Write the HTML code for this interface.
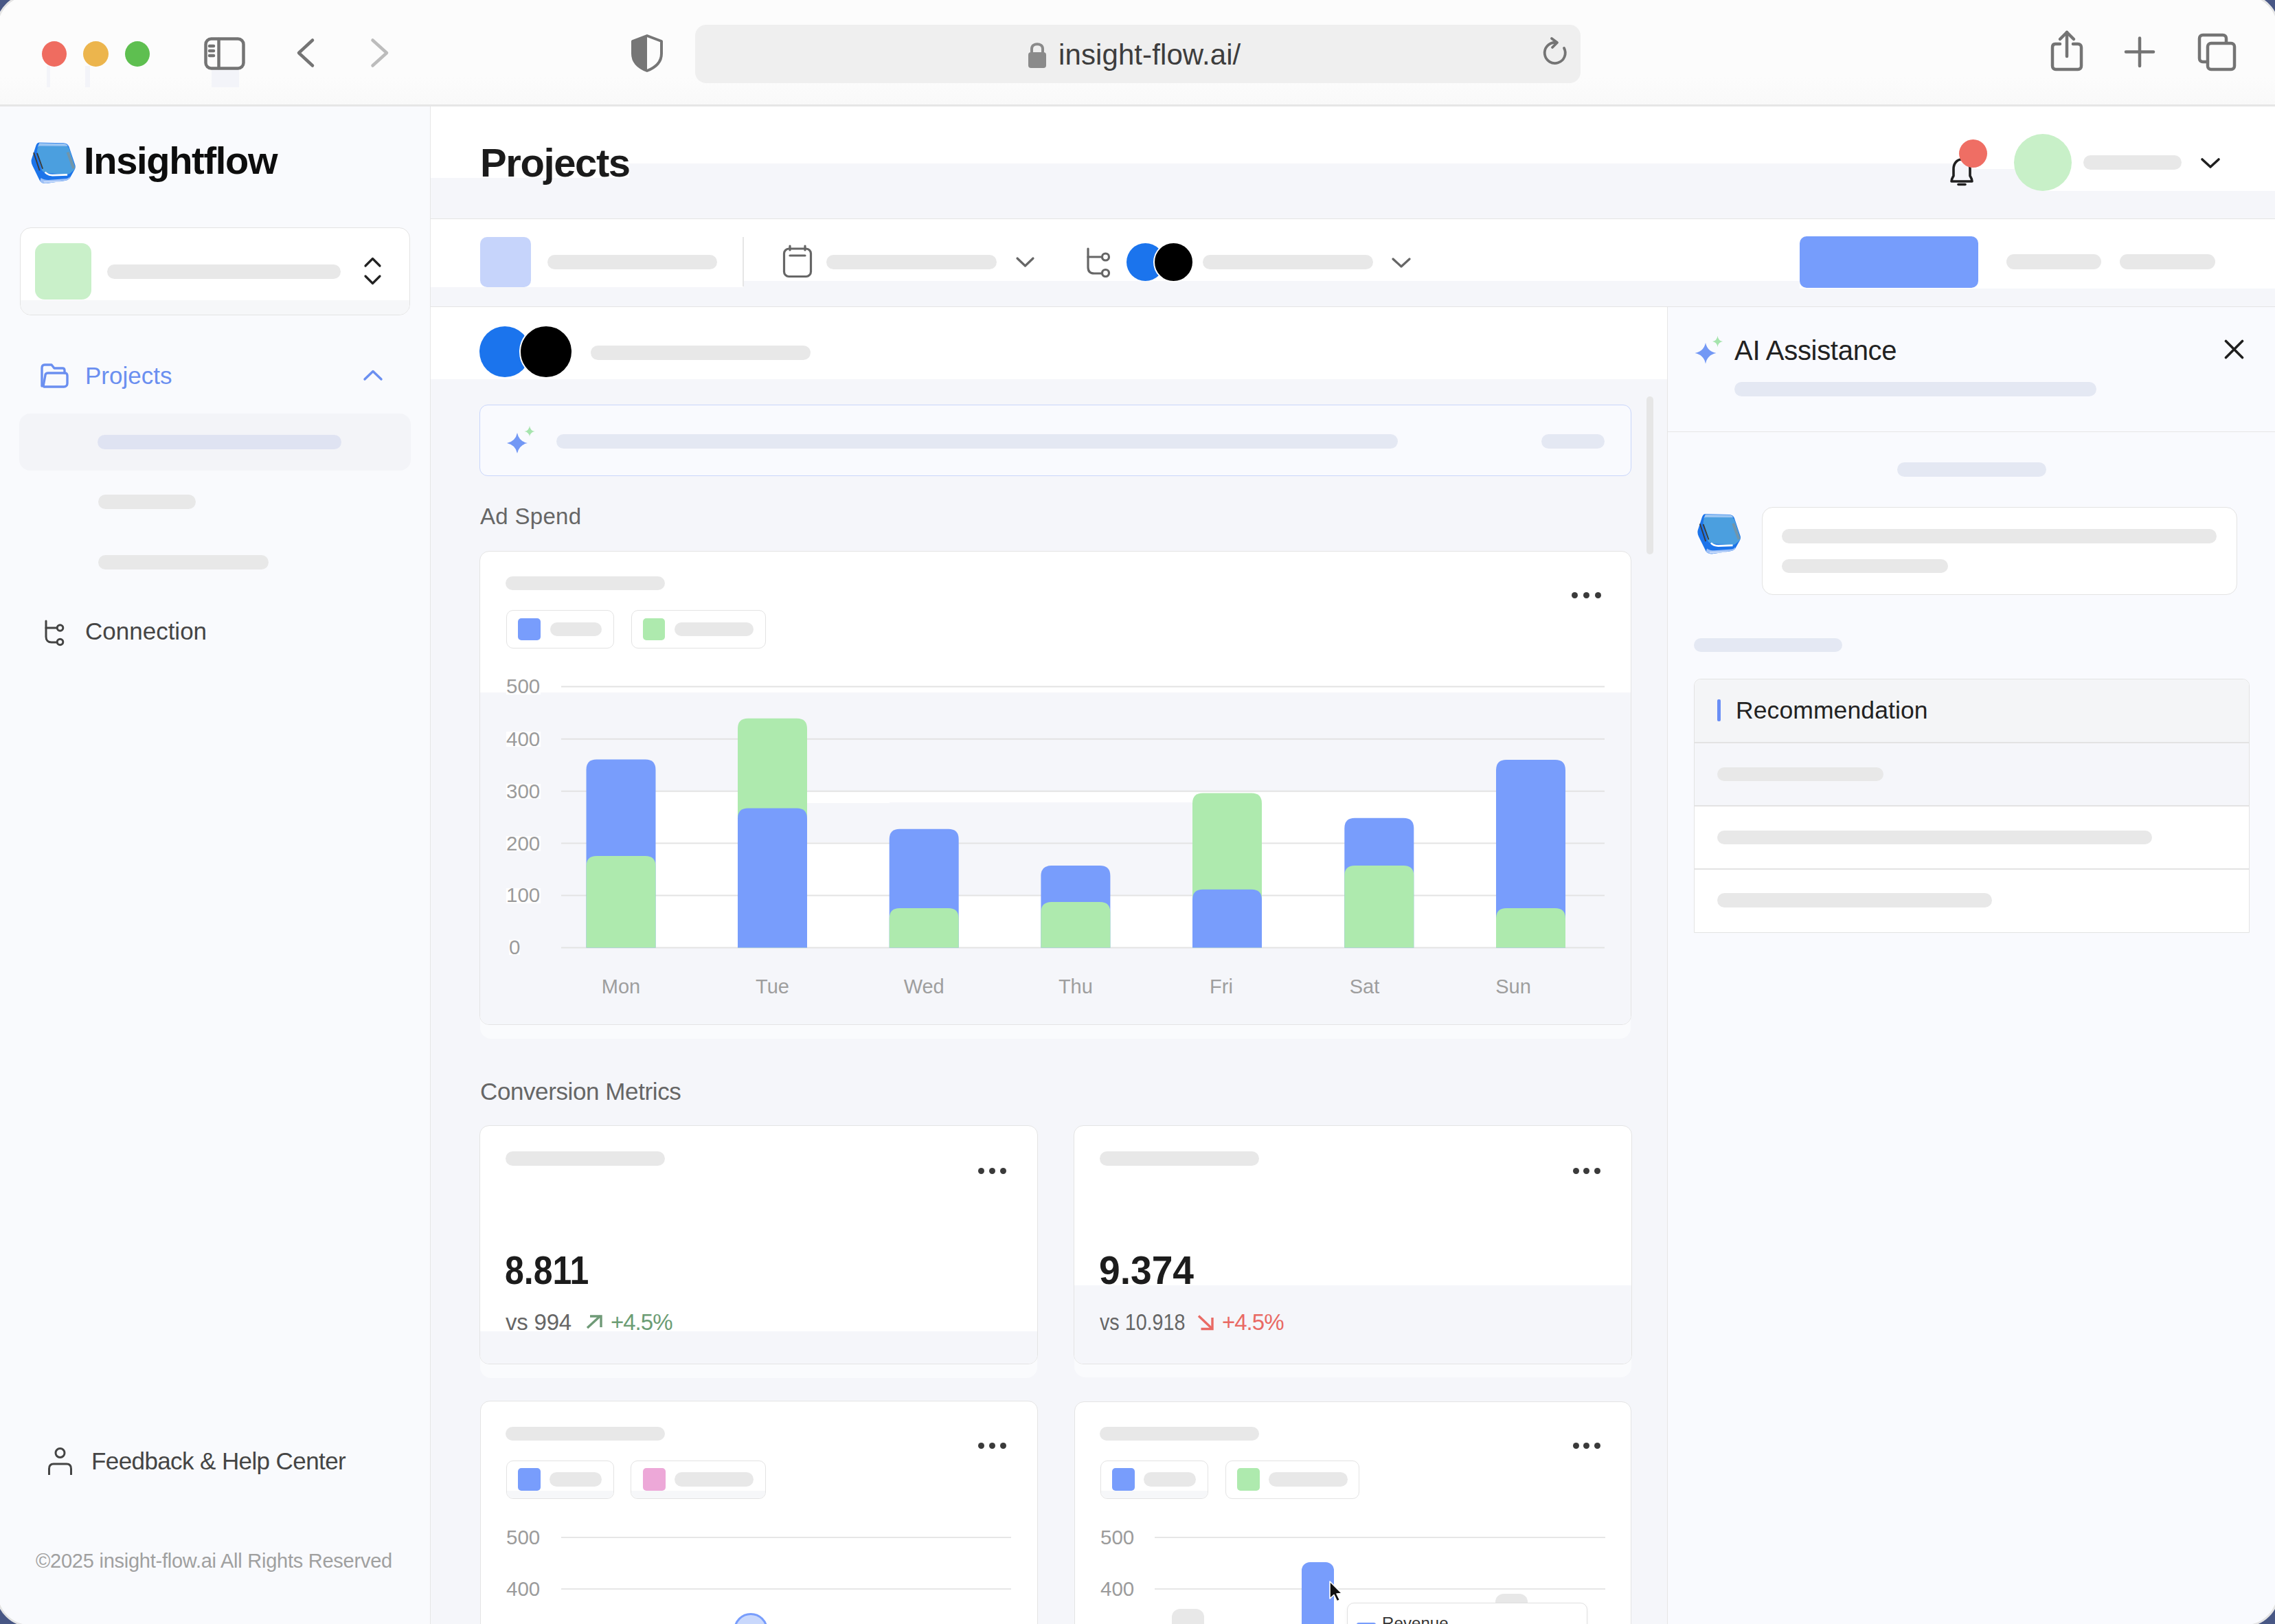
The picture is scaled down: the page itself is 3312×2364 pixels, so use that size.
<!DOCTYPE html>
<html>
<head>
<meta charset="utf-8">
<style>
*{box-sizing:border-box;margin:0;padding:0}
html,body{width:3312px;height:2364px;overflow:hidden;background:#485785;font-family:"Liberation Sans",sans-serif}
.win{position:absolute;left:-6px;top:-9px;width:3324px;height:2377px;border:3px solid #e4e4e4;border-radius:50px;overflow:hidden;background:#fcfcfc}
.c{position:absolute;left:3px;top:6px;width:3312px;height:2364px}
.a{position:absolute}
.t{position:absolute;white-space:nowrap;line-height:1}
.bar{position:absolute;background:#e8e8e8;border-radius:11px}
.bbar{position:absolute;background:#e4e8f3;border-radius:11px}
svg{position:absolute;overflow:visible}
</style>
</head>
<body>
<div class="win"><div class="c">

<!-- ============ BROWSER CHROME ============ -->
<div class="a" style="left:0;top:0;width:3312px;height:152px;background:#fcfcfc"></div>
<div class="a" style="left:0;top:112px;width:3312px;height:40px;background:linear-gradient(#fcfcfc,#f9f9f9)"></div>
<div class="a" style="left:0;top:152px;width:3312px;height:3px;background:#e6e6e6"></div>

<div class="a" style="left:68px;top:96px;width:4.5px;height:31px;background:#f3f4f9"></div>
<div class="a" style="left:124px;top:96px;width:7px;height:31px;background:#f3f4f9"></div>
<div class="a" style="left:308px;top:101px;width:40px;height:26px;background:#f3f4f9"></div>
<!-- traffic lights -->
<div class="a" style="left:61px;top:60px;width:36px;height:37px;border-radius:50%;background:#ef6c60"></div>
<div class="a" style="left:121px;top:60px;width:37px;height:37px;border-radius:50%;background:#ecb54d"></div>
<div class="a" style="left:182px;top:60px;width:36px;height:37px;border-radius:50%;background:#5ebf50"></div>

<!-- sidebar toggle icon -->
<svg style="left:0;top:0" width="3312" height="155" viewBox="0 0 3312 155">
  <g fill="none" stroke="#747474" stroke-width="4.5" stroke-linecap="round" stroke-linejoin="round">
    <rect x="299.5" y="56.5" width="55" height="43" rx="8"/>
    <line x1="318.5" y1="57" x2="318.5" y2="99"/>
    <line x1="305" y1="67" x2="311" y2="67"/>
    <line x1="305" y1="74" x2="311" y2="74"/>
    <line x1="305" y1="81" x2="311" y2="81"/>
    <polyline points="455,58.5 435,77 455,95.5"/>
  </g>
  <polyline fill="none" stroke="#bcbcbc" stroke-width="4.5" stroke-linecap="round" stroke-linejoin="round" points="542.5,58.5 563,77 542.5,95.5"/>
  <!-- shield -->
  <path d="M942 52 L963 60 L963 78 C963 90 955 98 942 103 C929 98 921 90 921 78 L921 60 Z" fill="none" stroke="#767676" stroke-width="4" stroke-linejoin="round"/>
  <path d="M942 52 L921 60 L921 78 C921 90 929 98 942 103 Z" fill="#767676"/>
  <!-- url bar -->
  <rect x="1012" y="36" width="1289" height="85" rx="16" fill="#efefef"/>
  <!-- lock -->
  <path d="M1502 76 L1502 71 C1502 62 1518 62 1518 71 L1518 76" fill="none" stroke="#8a8a8a" stroke-width="4"/>
  <rect x="1497" y="76" width="26" height="23" rx="4" fill="#8a8a8a"/>
  <!-- refresh -->
  <path d="M2277 70 A15 15 0 1 1 2264 62" fill="none" stroke="#747474" stroke-width="3.8" stroke-linecap="round"/>
  <polyline points="2259,56 2267,62 2260,69" fill="none" stroke="#747474" stroke-width="3.8" stroke-linecap="round" stroke-linejoin="round"/>
  <!-- share -->
  <g fill="none" stroke="#747474" stroke-width="4.5" stroke-linecap="round" stroke-linejoin="round">
    <path d="M2999 64 L2992 64 C2989 64 2988 66 2988 69 L2988 96 C2988 99 2990 101 2993 101 L3025 101 C3028 101 3030 99 3030 96 L3030 69 C3030 66 3028 64 3025 64 L3018 64"/>
    <line x1="3009" y1="47" x2="3009" y2="82"/>
    <polyline points="2999,57 3009,47 3019,57"/>
    <line x1="3095" y1="75.5" x2="3135" y2="75.5"/>
    <line x1="3115" y1="55.5" x2="3115" y2="96"/>
    <path d="M3214 90 L3207 90 C3204 90 3202 88 3202 85 L3202 56 C3202 53 3204 51 3207 51 L3236 51 C3239 51 3241 53 3241 56 L3241 62"/>
    <rect x="3214" y="63" width="39" height="38" rx="5"/>
  </g>
</svg>
<div class="t" style="left:1541px;top:59px;font-size:42px;color:#3d3d3d;letter-spacing:0.1px">insight-flow.ai/</div>

<!-- ============ SIDEBAR ============ -->
<div class="a" style="left:0;top:155px;width:626px;height:2209px;background:#f9fafd"></div>
<div class="a" style="left:626px;top:155px;width:1.5px;height:2209px;background:#e6e6e6"></div>

<!-- logo -->
<svg style="left:0;top:0;width:0;height:0">
  <defs>
    <symbol id="logo" viewBox="0 0 1705 1624">
      <path d="M420 235 L1150 250 Q1270 255 1310 360 L1490 900 Q1510 970 1470 1040 L1330 1290 Q1280 1350 1190 1360 L640 1440 Q520 1455 450 1370 L230 920 Q170 800 210 700 L330 330 Q360 240 420 235 Z" fill="#1c74ea"/>
      <path d="M480 1280 Q560 1340 700 1340 L1240 1300 Q1300 1290 1330 1240 L1330 1290 Q1280 1350 1190 1360 L640 1440 Q520 1455 450 1370 Z" fill="#9ec0f6"/>
      <path d="M440 330 L1200 330 Q1290 340 1320 430 L1480 930 Q1500 1000 1440 1060 L1330 1150 Q1290 1175 1220 1175 L640 1130 Q540 1120 500 1040 L380 620 Q350 480 380 400 Q400 335 440 330 Z" fill="#4b9fdf"/>
      <path d="M430 250 L1150 262 Q1240 268 1280 340 L440 335 Q390 335 370 390 Z" fill="#9cc6f2"/>
      <path d="M1270 520 L1450 1000" stroke="#7f9298" stroke-width="80" opacity="0.75"/>
      <path d="M265 530 L440 1060 M365 545 L530 1010" stroke="#3a3a3a" stroke-width="38"/>
      <path d="M600 1110 Q680 1195 820 1200 L1260 1185" stroke="#ffffff" stroke-width="55" fill="none"/>
      <path d="M560 1395 L1060 1385" stroke="#d3e2fb" stroke-width="30" fill="none"/>
    </symbol>
  </defs>
</svg>
<svg style="left:36px;top:196px" width="84" height="80"><use href="#logo"/></svg>
<div class="t" style="left:122px;top:206px;font-size:56px;font-weight:700;color:#0d0d0d;letter-spacing:-1.3px">Insightflow</div>

<!-- workspace selector -->
<div class="a" style="left:29px;top:331px;width:568px;height:128px;border:1.5px solid #e3e3e3;border-radius:16px;background:#fff;overflow:hidden">
  <div class="a" style="left:0;top:105px;width:568px;height:30px;background:#f6f7f9"></div>
</div>
<div class="a" style="left:51px;top:354px;width:82px;height:82px;border-radius:14px;background:#c9f0c9"></div>
<div class="bar" style="left:156px;top:385px;width:340px;height:21px"></div>
<svg style="left:0;top:0" width="640" height="480">
  <g fill="none" stroke="#222" stroke-width="3.2" stroke-linecap="round" stroke-linejoin="round">
    <polyline points="532,387 542.5,376.5 553,387"/>
    <polyline points="532,402 542.5,412.5 553,402"/>
  </g>
</svg>

<!-- nav: Projects -->
<svg style="left:0;top:0" width="640" height="1000">
  <g fill="none" stroke="#6b8ff0" stroke-width="3.4" stroke-linejoin="round" stroke-linecap="round">
    <path d="M61 562 L61 536 C61 533 62 531 65 531 L75 531 L79 536 L91 536 C93 536 94 537 94 539 L94 543"/>
    <path d="M63 562 L66 546 C66 544 68 543 70 543 L95 543 C97 543 98 545 98 547 L98 558 C98 561 96 563 93 563 L64 563"/>
    <polyline points="531,552 543,540.5 555,552"/>
  </g>
  <g fill="none" stroke="#444" stroke-width="3" stroke-linecap="round" stroke-linejoin="round">
    <path d="M67 904 L67 927 C67 932 70 935 75 935 L83 935"/>
    <path d="M67 914 L83 914"/>
    <circle cx="87.5" cy="914" r="4.3"/>
    <circle cx="87.5" cy="934.5" r="4.3"/>
  </g>
</svg>
<div class="t" style="left:124px;top:529px;font-size:35px;color:#6b8ff0">Projects</div>
<div class="a" style="left:28px;top:602px;width:570px;height:83px;border-radius:16px;background:#f3f4f8"></div>
<div class="a" style="left:142px;top:633px;width:355px;height:21px;border-radius:11px;background:#dfe3f2"></div>
<div class="bar" style="left:143px;top:720px;width:142px;height:21px"></div>
<div class="bar" style="left:143px;top:808px;width:248px;height:21px"></div>
<div class="t" style="left:124px;top:901px;font-size:35px;color:#454545">Connection</div>

<!-- feedback -->
<svg style="left:0;top:0" width="640" height="2364">
  <g fill="none" stroke="#454545" stroke-width="3" stroke-linecap="round">
    <circle cx="87.5" cy="2115" r="6.5"/>
    <path d="M71.5 2147 L71.5 2138 C71.5 2133 74 2131 78 2131 L97 2131 C101 2131 103.5 2133 103.5 2138 L103.5 2147" stroke-linecap="butt"/>
  </g>
</svg>
<div class="t" style="left:133px;top:2109px;font-size:35px;color:#454545;letter-spacing:-0.6px">Feedback &amp; Help Center</div>
<div class="t" style="left:52px;top:2258px;font-size:29px;color:#a0a0a0;letter-spacing:-0.25px">©2025 insight-flow.ai All Rights Reserved</div>

<!-- ============ MAIN ============ -->
<div class="a" style="left:627px;top:155px;width:2685px;height:2209px;background:#f5f6fa"></div>
<!-- header -->
<div class="a" style="left:627px;top:155px;width:2685px;height:83px;background:#fff"></div>
<div class="a" style="left:627px;top:238px;width:289px;height:21px;background:#fff"></div>
<div class="a" style="left:2873px;top:238px;width:101px;height:8px;background:#fff"></div>
<div class="a" style="left:2974px;top:238px;width:338px;height:40px;background:#fff"></div>
<div class="t" style="left:699px;top:208px;font-size:58px;font-weight:700;color:#1b1b1b;letter-spacing:-1.4px">Projects</div>
<svg style="left:0;top:0" width="3312" height="460">
  <g fill="none" stroke="#1f1f1f" stroke-width="3.6" stroke-linecap="round" stroke-linejoin="round">
    <path d="M2843 264 L2871 264 C2871 260 2869 258 2868 256 L2868 246 C2868 238 2863 232 2856 232 C2849 232 2844 238 2844 246 L2844 256 C2843 258 2841 260 2841 264 Z"/>
    <line x1="2851" y1="268.5" x2="2861" y2="268.5"/>
    <polyline points="3206,232 3218,243 3230,232"/>
  </g>
</svg>
<div class="a" style="left:2852px;top:203px;width:41px;height:41px;border-radius:50%;background:#ef6e64"></div>
<div class="a" style="left:2932px;top:195px;width:84px;height:83px;border-radius:50%;background:#c8f0c8"></div>
<div class="bar" style="left:3033px;top:226px;width:143px;height:21px"></div>

<!-- toolbar -->
<div class="a" style="left:627px;top:318px;width:2685px;height:1.5px;background:#e4e4e4"></div>
<div class="a" style="left:627px;top:319px;width:455px;height:99px;background:#fff"></div>
<div class="a" style="left:1082px;top:319px;width:1538px;height:90px;background:#fff"></div>
<div class="a" style="left:2620px;top:319px;width:692px;height:101px;background:#fff"></div>
<div class="a" style="left:627px;top:446px;width:2685px;height:1.5px;background:#e4e4e4"></div>
<div class="a" style="left:699px;top:345px;width:74px;height:73px;border-radius:10px;background:#c6d4fb"></div>
<div class="bar" style="left:797px;top:371px;width:247px;height:21px"></div>
<div class="a" style="left:1081px;top:345px;width:1.5px;height:72px;background:#e6e6e6"></div>
<svg style="left:0;top:0" width="3312" height="460">
  <g fill="none" stroke="#666" stroke-width="3.2" stroke-linecap="round" stroke-linejoin="round">
    <rect x="1141.5" y="362" width="39" height="40.5" rx="7"/>
    <line x1="1150" y1="358" x2="1150" y2="364"/>
    <line x1="1172" y1="358" x2="1172" y2="364"/>
    <line x1="1150" y1="372" x2="1172" y2="372"/>
    <polyline points="1481,376 1492.5,387 1504,376"/>
    <path d="M1584 362 L1584 389 C1584 395 1587 398 1593 398 L1604 398"/>
    <path d="M1584 374 L1604 374"/>
    <circle cx="1609.5" cy="374" r="5"/>
    <circle cx="1609.5" cy="397.5" r="5"/>
    <polyline points="2028,377 2040,388 2052,377"/>
  </g>
</svg>
<div class="bar" style="left:1203px;top:371px;width:248px;height:21px"></div>
<div class="a" style="left:1640px;top:354px;width:55px;height:55px;border-radius:50%;background:#1b74ed"></div>
<div class="a" style="left:1679px;top:352px;width:59px;height:59px;border-radius:50%;background:#000;border:2.5px solid #fff"></div>
<div class="bar" style="left:1751px;top:371px;width:248px;height:21px"></div>
<div class="a" style="left:2620px;top:344px;width:260px;height:75px;border-radius:10px;background:#769dfc"></div>
<div class="bar" style="left:2921px;top:370px;width:138px;height:22px"></div>
<div class="bar" style="left:3086px;top:370px;width:139px;height:22px"></div>

<!-- project header strip -->
<div class="a" style="left:627px;top:447px;width:1800px;height:105px;background:#fff"></div>
<div class="a" style="left:698px;top:475px;width:74px;height:74px;border-radius:50%;background:#1b74ed"></div>
<div class="a" style="left:756px;top:473px;width:78px;height:78px;border-radius:50%;background:#000;border:2.5px solid #fff"></div>
<div class="bar" style="left:860px;top:503px;width:320px;height:21px"></div>

<!-- scrollbar -->
<div class="a" style="left:2397px;top:577px;width:10px;height:230px;border-radius:5px;background:#e6e6e6"></div>

<!-- AI prompt box -->
<div class="a" style="left:698px;top:589px;width:1677px;height:104px;border:1.5px solid #c9d6fb;border-radius:12px;background:#f9fafe"></div>
<svg style="left:0;top:0" width="1000" height="700">
  <path d="M753 630 Q755.5 642.5 768 645 Q755.5 647.5 753 660 Q750.5 647.5 738 645 Q750.5 642.5 753 630 Z" fill="#7398f5"/>
  <path d="M771 620 Q772 627 778.5 628 Q772 629 771 635.5 Q770 629 763.5 628 Q770 627 771 620 Z" fill="#a6e4ad"/>
</svg>
<div class="bbar" style="left:810px;top:632px;width:1225px;height:21px"></div>
<div class="bbar" style="left:2244px;top:632px;width:92px;height:21px"></div>

<div class="t" style="left:699px;top:735px;font-size:33px;color:#666;letter-spacing:0.3px">Ad Spend</div>
<!-- chart card -->
<div class="a" style="left:699px;top:1480px;width:1675px;height:32px;border-radius:0 0 16px 16px;background:#fafbfd"></div>
<div class="a" style="left:698px;top:802px;width:1677px;height:690px;border:1.5px solid #e4e4e4;border-radius:14px;background:#fff;overflow:hidden">
  <div class="a" style="left:-1.5px;top:204.5px;width:1678.0px;height:144.0px;background:#f5f6fa"></div>
  <div class="a" style="left:-1.5px;top:348.5px;width:156.0px;height:228.0px;background:#f5f6fa"></div>
  <div class="a" style="left:475.5px;top:365.5px;width:120.0px;height:57.0px;background:#f5f6fa"></div>
  <div class="a" style="left:595.5px;top:364.5px;width:442.0px;height:136.0px;background:#f5f6fa"></div>
  <div class="a" style="left:1579.5px;top:348.5px;width:97.0px;height:228.0px;background:#f5f6fa"></div>
  <div class="a" style="left:-1.5px;top:576.5px;width:1678.0px;height:115.0px;background:#f5f6fa"></div>
</div>
<div class="bar" style="left:736px;top:839px;width:232px;height:20px"></div>
<div class="a" style="left:737px;top:888px;width:157px;height:56px;border:1.5px solid #e3e3e3;border-radius:10px"></div>
<div class="a" style="left:919px;top:888px;width:196px;height:56px;border:1.5px solid #e3e3e3;border-radius:10px"></div>
<div class="a" style="left:754px;top:900px;width:33px;height:32px;border-radius:5px;background:#789dfc"></div>
<div class="bar" style="left:801px;top:906px;width:75px;height:20px"></div>
<div class="a" style="left:936px;top:900px;width:32px;height:32px;border-radius:5px;background:#aeeaae"></div>
<div class="bar" style="left:982px;top:906px;width:115px;height:20px"></div>
<div class="a" style="left:2287.5px;top:862.0px;width:9px;height:9px;border-radius:50%;background:#3a3a3a"></div>
<div class="a" style="left:2304.5px;top:862.0px;width:9px;height:9px;border-radius:50%;background:#3a3a3a"></div>
<div class="a" style="left:2322.0px;top:862.0px;width:9px;height:9px;border-radius:50%;background:#3a3a3a"></div>
<div class="a" style="left:737px;top:988.5px;width:50px;height:22px;background:#fff"></div><div class="t" style="left:737px;top:984.4px;font-size:29.5px;color:#9b9b9b">500</div>
<div class="a" style="left:737px;top:1064.7px;width:50px;height:22px;background:#fff"></div><div class="t" style="left:737px;top:1060.6px;font-size:29.5px;color:#9b9b9b">400</div>
<div class="a" style="left:737px;top:1140.8px;width:50px;height:22px;background:#fff"></div><div class="t" style="left:737px;top:1136.7px;font-size:29.5px;color:#9b9b9b">300</div>
<div class="a" style="left:737px;top:1216.6px;width:50px;height:22px;background:#fff"></div><div class="t" style="left:737px;top:1212.5px;font-size:29.5px;color:#9b9b9b">200</div>
<div class="a" style="left:737px;top:1292.5px;width:50px;height:22px;background:#fff"></div><div class="t" style="left:737px;top:1288.4px;font-size:29.5px;color:#9b9b9b">100</div>
<div class="a" style="left:741px;top:1368.4px;width:16px;height:22px;background:#fff"></div><div class="t" style="left:741px;top:1364.3px;font-size:29.5px;color:#9b9b9b">0</div>
<svg style="left:0;top:0" width="3312" height="1500">
  <line x1="817" y1="999.5" x2="2336" y2="999.5" stroke="#e3e3e3" stroke-width="2"/>
  <line x1="817" y1="1075.7" x2="2336" y2="1075.7" stroke="#e3e3e3" stroke-width="2"/>
  <line x1="817" y1="1151.8" x2="2336" y2="1151.8" stroke="#e3e3e3" stroke-width="2"/>
  <line x1="817" y1="1227.6" x2="2336" y2="1227.6" stroke="#e3e3e3" stroke-width="2"/>
  <line x1="817" y1="1303.5" x2="2336" y2="1303.5" stroke="#e3e3e3" stroke-width="2"/>
  <line x1="817" y1="1379.4" x2="2336" y2="1379.4" stroke="#e3e3e3" stroke-width="2"/>
  <path d="M853.5 1379.4 L853.5 1120.5 Q853.5 1105.5 868.5 1105.5 L939.5 1105.5 Q954.5 1105.5 954.5 1120.5 L954.5 1379.4 Z" fill="#789dfc"/>
  <path d="M853.5 1379.4 L853.5 1261 Q853.5 1246 868.5 1246 L939.5 1246 Q954.5 1246 954.5 1261 L954.5 1379.4 Z" fill="#aeeaae"/>
  <path d="M1074 1379.4 L1074 1060.7 Q1074 1045.7 1089 1045.7 L1160 1045.7 Q1175 1045.7 1175 1060.7 L1175 1379.4 Z" fill="#aeeaae"/>
  <path d="M1074 1379.4 L1074 1191.5 Q1074 1176.5 1089 1176.5 L1160 1176.5 Q1175 1176.5 1175 1191.5 L1175 1379.4 Z" fill="#789dfc"/>
  <path d="M1294.7 1379.4 L1294.7 1221.8 Q1294.7 1206.8 1309.7 1206.8 L1380.7 1206.8 Q1395.7 1206.8 1395.7 1221.8 L1395.7 1379.4 Z" fill="#789dfc"/>
  <path d="M1294.7 1379.4 L1294.7 1337 Q1294.7 1322 1309.7 1322 L1380.7 1322 Q1395.7 1322 1395.7 1337 L1395.7 1379.4 Z" fill="#aeeaae"/>
  <path d="M1515.4 1379.4 L1515.4 1275 Q1515.4 1260 1530.4 1260 L1601.4 1260 Q1616.4 1260 1616.4 1275 L1616.4 1379.4 Z" fill="#789dfc"/>
  <path d="M1515.4 1379.4 L1515.4 1328 Q1515.4 1313 1530.4 1313 L1601.4 1313 Q1616.4 1313 1616.4 1328 L1616.4 1379.4 Z" fill="#aeeaae"/>
  <path d="M1736 1379.4 L1736 1169.4 Q1736 1154.4 1751 1154.4 L1822 1154.4 Q1837 1154.4 1837 1169.4 L1837 1379.4 Z" fill="#aeeaae"/>
  <path d="M1736 1379.4 L1736 1309.8 Q1736 1294.8 1751 1294.8 L1822 1294.8 Q1837 1294.8 1837 1309.8 L1837 1379.4 Z" fill="#789dfc"/>
  <path d="M1957.3 1379.4 L1957.3 1205.8 Q1957.3 1190.8 1972.3 1190.8 L2043.3000000000002 1190.8 Q2058.3 1190.8 2058.3 1205.8 L2058.3 1379.4 Z" fill="#789dfc"/>
  <path d="M1957.3 1379.4 L1957.3 1274.9 Q1957.3 1259.9 1972.3 1259.9 L2043.3000000000002 1259.9 Q2058.3 1259.9 2058.3 1274.9 L2058.3 1379.4 Z" fill="#aeeaae"/>
  <path d="M2178 1379.4 L2178 1121 Q2178 1106 2193 1106 L2264 1106 Q2279 1106 2279 1121 L2279 1379.4 Z" fill="#789dfc"/>
  <path d="M2178 1379.4 L2178 1337 Q2178 1322 2193 1322 L2264 1322 Q2279 1322 2279 1337 L2279 1379.4 Z" fill="#aeeaae"/>
</svg>
<div class="t" style="left:844.0px;width:120px;text-align:center;top:1422.3px;font-size:29px;color:#9e9e9e">Mon</div>
<div class="t" style="left:1064.5px;width:120px;text-align:center;top:1422.3px;font-size:29px;color:#9e9e9e">Tue</div>
<div class="t" style="left:1285.2px;width:120px;text-align:center;top:1422.3px;font-size:29px;color:#9e9e9e">Wed</div>
<div class="t" style="left:1505.9px;width:120px;text-align:center;top:1422.3px;font-size:29px;color:#9e9e9e">Thu</div>
<div class="t" style="left:1718px;width:120px;text-align:center;top:1422.3px;font-size:29px;color:#9e9e9e">Fri</div>
<div class="t" style="left:1926.5px;width:120px;text-align:center;top:1422.3px;font-size:29px;color:#9e9e9e">Sat</div>
<div class="t" style="left:2143px;width:120px;text-align:center;top:1422.3px;font-size:29px;color:#9e9e9e">Sun</div>

<!-- conversion metrics -->
<div class="t" style="left:699px;top:1571.2px;font-size:35px;color:#666;letter-spacing:-0.4px">Conversion Metrics</div>
<div class="a" style="left:699px;top:1938px;width:811px;height:68px;border-radius:0 0 16px 16px;background:#fafbfd"></div>
<div class="a" style="left:698px;top:1638px;width:813px;height:348px;border:1.5px solid #e4e4e4;border-radius:14px;background:#fff;overflow:hidden"><div class="a" style="left:0;top:298.5px;width:813px;height:200px;background:#f5f6fa"></div></div>
<div class="a" style="left:1564px;top:1938px;width:811px;height:67px;border-radius:0 0 16px 16px;background:#fafbfd"></div>
<div class="a" style="left:1563px;top:1638px;width:813px;height:348px;border:1.5px solid #e4e4e4;border-radius:14px;background:#fff;overflow:hidden"><div class="a" style="left:0;top:231.5px;width:813px;height:200px;background:#f5f6fa"></div></div>
<div class="bar" style="left:736px;top:1676px;width:232px;height:21px"></div>
<div class="bar" style="left:1601px;top:1676px;width:232px;height:21px"></div>
<div class="a" style="left:1424.0px;top:1699.5px;width:9px;height:9px;border-radius:50%;background:#3a3a3a"></div>
<div class="a" style="left:1440.0px;top:1699.5px;width:9px;height:9px;border-radius:50%;background:#3a3a3a"></div>
<div class="a" style="left:1456.0px;top:1699.5px;width:9px;height:9px;border-radius:50%;background:#3a3a3a"></div>
<div class="a" style="left:2289.5px;top:1699.5px;width:9px;height:9px;border-radius:50%;background:#3a3a3a"></div>
<div class="a" style="left:2305.0px;top:1699.5px;width:9px;height:9px;border-radius:50%;background:#3a3a3a"></div>
<div class="a" style="left:2320.5px;top:1699.5px;width:9px;height:9px;border-radius:50%;background:#3a3a3a"></div>
<div class="t" style="left:735px;top:1820.2px;font-size:58px;font-weight:700;color:#1c1c1c;transform:scaleX(0.862);transform-origin:0 0">8.811</div>
<div class="t" style="left:1600px;top:1820.2px;font-size:58px;font-weight:700;color:#1c1c1c;transform:scaleX(0.951);transform-origin:0 0">9.374</div>
<div class="t" style="left:736px;top:1908.0px;font-size:33px;color:#666;letter-spacing:-0.2px">vs 994</div>
<div class="t" style="left:889px;top:1908.0px;font-size:33px;color:#6c9d74;letter-spacing:-1px">+4.5%</div>
<div class="t" style="left:1601px;top:1908.0px;font-size:33px;color:#666;transform:scaleX(0.87);transform-origin:0 0">vs 10.918</div>
<div class="t" style="left:1779px;top:1908.0px;font-size:33px;color:#e96a64;letter-spacing:-1px">+4.5%</div>
<svg style="left:0;top:0" width="3312" height="2364">
  <g fill="none" stroke-width="3.4" stroke-linecap="butt" stroke-linejoin="miter">
    <line x1="855" y1="1933" x2="874" y2="1915.5" stroke="#6f9a77"/>
    <polyline points="859,1916 875,1916 875,1932" stroke="#6f9a77"/>
    <line x1="1745" y1="1915.5" x2="1764.5" y2="1934" stroke="#e96a64"/>
    <polyline points="1765,1918 1765,1934.5 1748.5,1934.5" stroke="#e96a64"/>
  </g>
</svg>
<div class="a" style="left:699px;top:2039px;width:812px;height:400px;border:1.5px solid #e4e4e4;border-radius:14px;background:#fff"></div>
<div class="a" style="left:1564px;top:2040px;width:811px;height:400px;border:1.5px solid #e4e4e4;border-radius:14px;background:#fff"></div>
<div class="bar" style="left:736px;top:2077px;width:232px;height:20px"></div>
<div class="bar" style="left:1601px;top:2077px;width:232px;height:20px"></div>
<div class="a" style="left:1424.0px;top:2100.0px;width:9px;height:9px;border-radius:50%;background:#3a3a3a"></div>
<div class="a" style="left:1440.0px;top:2100.0px;width:9px;height:9px;border-radius:50%;background:#3a3a3a"></div>
<div class="a" style="left:1456.0px;top:2100.0px;width:9px;height:9px;border-radius:50%;background:#3a3a3a"></div>
<div class="a" style="left:2289.5px;top:2100.0px;width:9px;height:9px;border-radius:50%;background:#3a3a3a"></div>
<div class="a" style="left:2305.0px;top:2100.0px;width:9px;height:9px;border-radius:50%;background:#3a3a3a"></div>
<div class="a" style="left:2320.5px;top:2100.0px;width:9px;height:9px;border-radius:50%;background:#3a3a3a"></div>
<div class="a" style="left:737px;top:2126px;width:157px;height:56px;border:1.5px solid #e3e3e3;border-radius:10px;background:#fff;overflow:hidden"><div class="a" style="left:0;top:43px;width:157px;height:12px;background:#f6f7f9"></div></div>
<div class="a" style="left:754px;top:2137px;width:33px;height:33px;border-radius:5px;background:#789dfc"></div>
<div class="bar" style="left:800px;top:2143px;width:76px;height:21px"></div>
<div class="a" style="left:918px;top:2126px;width:197px;height:56px;border:1.5px solid #e3e3e3;border-radius:10px;background:#fff;overflow:hidden"><div class="a" style="left:0;top:43px;width:197px;height:12px;background:#f6f7f9"></div></div>
<div class="a" style="left:936px;top:2137px;width:33px;height:33px;border-radius:5px;background:#eda8d8"></div>
<div class="bar" style="left:982px;top:2143px;width:115px;height:21px"></div>
<div class="a" style="left:1602px;top:2126px;width:157px;height:56px;border:1.5px solid #e3e3e3;border-radius:10px;background:#fff;overflow:hidden"><div class="a" style="left:0;top:43px;width:157px;height:12px;background:#f6f7f9"></div></div>
<div class="a" style="left:1619px;top:2137px;width:33px;height:33px;border-radius:5px;background:#789dfc"></div>
<div class="bar" style="left:1665px;top:2143px;width:76px;height:21px"></div>
<div class="a" style="left:1784px;top:2126px;width:195px;height:56px;border:1.5px solid #e3e3e3;border-radius:10px;background:#fff"></div>
<div class="a" style="left:1801px;top:2137px;width:33px;height:33px;border-radius:5px;background:#aeeaae"></div>
<div class="bar" style="left:1847px;top:2143px;width:115px;height:21px"></div>
<div class="t" style="left:737px;top:2222.5px;font-size:29.5px;color:#9b9b9b">500</div>
<div class="t" style="left:737px;top:2297.9px;font-size:29.5px;color:#9b9b9b">400</div>
<div class="a" style="left:817px;top:2236.5px;width:655px;height:2px;background:#e6e6e6"></div>
<div class="a" style="left:817px;top:2312px;width:655px;height:2px;background:#e6e6e6"></div>
<div class="t" style="left:1602px;top:2222.5px;font-size:29.5px;color:#9b9b9b">500</div>
<div class="t" style="left:1602px;top:2297.9px;font-size:29.5px;color:#9b9b9b">400</div>
<div class="a" style="left:1681px;top:2236.5px;width:656px;height:2px;background:#e6e6e6"></div>
<div class="a" style="left:1681px;top:2312px;width:656px;height:2px;background:#e6e6e6"></div>
<div class="a" style="left:1068px;top:2348px;width:50px;height:50px;border-radius:50%;background:#c9d8fc;border:3px solid #789dfc"></div>
<div class="a" style="left:1706px;top:2342px;width:47px;height:60px;border-radius:12px 12px 0 0;background:#e8e8e8"></div>
<div class="a" style="left:1895px;top:2274px;width:47px;height:120px;border-radius:12px 12px 0 0;background:#789dfc"></div>
<div class="a" style="left:2177px;top:2320px;width:47px;height:60px;border-radius:12px 12px 0 0;background:#e8e8e8"></div>
<div class="a" style="left:1961px;top:2333px;width:350px;height:80px;border:1.5px solid #e0e0e0;border-radius:10px;background:#fff;box-shadow:0 2px 6px rgba(0,0,0,0.04)"></div>
<div class="a" style="left:1975px;top:2362px;width:28px;height:20px;border-radius:3px;background:#789dfc"></div>
<div class="t" style="left:2012px;top:2351px;font-size:24px;color:#333;letter-spacing:0.1px">Revenue</div>
<svg style="left:0;top:0" width="3312" height="2364">
  <path d="M1936 2302 L1936 2327 L1942 2321.5 L1946.5 2331 L1950.5 2329 L1946 2320 L1953.5 2319.5 Z" fill="#111" stroke="#fff" stroke-width="1.6" stroke-linejoin="round"/>
</svg>
<!-- AI panel -->
<div class="a" style="left:2427px;top:447px;width:885px;height:1917px;background:#f9fafe"></div>
<div class="a" style="left:2426.5px;top:447px;width:1.5px;height:1917px;background:#e6e6e6"></div>
<div class="a" style="left:2428px;top:627.5px;width:884px;height:1.5px;background:#e6e6e6"></div>
<svg style="left:0;top:0" width="3312" height="1000">
  <path d="M2483 499 Q2485.5 511.5 2498.5 514 Q2485.5 516.5 2483 529.5 Q2480.5 516.5 2467.5 514 Q2480.5 511.5 2483 499 Z" fill="#7398f5"/>
  <path d="M2500.5 489 Q2501.5 496 2508 497 Q2501.5 498 2500.5 505 Q2499.5 498 2493 497 Q2499.5 496 2500.5 489 Z" fill="#a6e4ad"/>
  <g stroke="#1f1f1f" stroke-width="3.6" stroke-linecap="round">
    <line x1="3240.5" y1="496.5" x2="3264.5" y2="520.5"/>
    <line x1="3264.5" y1="496.5" x2="3240.5" y2="520.5"/>
  </g>
</svg>
<div class="t" style="left:2525px;top:490.3px;font-size:40px;color:#222;letter-spacing:-0.3px">AI Assistance</div>
<div class="bbar" style="left:2525px;top:556px;width:527px;height:21px"></div>
<div class="bbar" style="left:2762px;top:673px;width:217px;height:21px"></div>
<svg style="left:2461px;top:737px" width="84" height="78"><use href="#logo"/></svg>
<div class="a" style="left:2565px;top:738px;width:692px;height:128px;border:1.5px solid #e3e3e3;border-radius:16px;background:#fff"></div>
<div class="bar" style="left:2594px;top:770px;width:633px;height:21px"></div>
<div class="bar" style="left:2594px;top:814px;width:242px;height:20px"></div>
<div class="bbar" style="left:2466px;top:929px;width:216px;height:20px"></div>
<div class="a" style="left:2466px;top:988px;width:809px;height:370px;border:1.5px solid #e3e3e3;border-radius:10px 10px 0 0;background:#fff;overflow:hidden"><div class="a" style="left:0;top:0;width:809px;height:91px;background:#f4f5f7"></div><div class="a" style="left:0;top:91px;width:809px;height:1.5px;background:#e3e3e3"></div><div class="a" style="left:0;top:92.5px;width:809px;height:91px;background:#f5f6fa"></div><div class="a" style="left:0;top:183px;width:809px;height:1.5px;background:#e3e3e3"></div><div class="a" style="left:0;top:275px;width:809px;height:1.5px;background:#e3e3e3"></div></div>
<div class="a" style="left:2500px;top:1018px;width:4.5px;height:32px;border-radius:2px;background:#6a8ef5"></div>
<div class="t" style="left:2527px;top:1016.8px;font-size:35.5px;color:#222;letter-spacing:0.1px">Recommendation</div>
<div class="bar" style="left:2500px;top:1117px;width:242px;height:20px"></div>
<div class="bar" style="left:2500px;top:1209px;width:633px;height:20px"></div>
<div class="bar" style="left:2500px;top:1300px;width:400px;height:21px"></div>

</div></div>
</body>
</html>
